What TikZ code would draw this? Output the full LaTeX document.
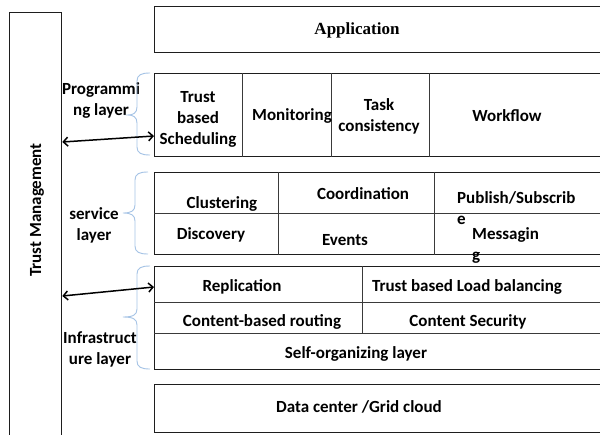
\documentclass[tikz,border=0pt]{standalone}
\usepackage{fontspec}
\setmainfont{Carlito}
\newfontfamily\titlefont{Liberation Serif}
\usetikzlibrary{arrows.meta}

% left curly brace: #1 top, #2 tip level, #3 bottom, #4 spine x, #5 tip x
\newcommand\layerbrace[5]{%
  \draw[bracestyle] ({#4+13},#1) .. controls ({#4+4},#1) and (#4,{#1+2}) .. (#4,{#1+8})
    -- (#4,{#2-8}) .. controls (#4,{#2-2}) and ({#4-4},#2) .. (#5,#2)
    .. controls ({#4-4},#2) and (#4,{#2+2}) .. (#4,{#2+8})
    -- (#4,{#3-8}) .. controls (#4,{#3-2}) and ({#4+4},#3) .. ({#4+13},#3);}

\definecolor{bracecol}{HTML}{A6C4E6}
\definecolor{framecol}{HTML}{1E1E1E}
\definecolor{gridcol}{HTML}{3A3A3A}

\tikzset{
  box/.style={draw=framecol, line width=1.3pt, anchor=north west, inner sep=0pt},
  gridline/.style={draw=gridcol, line width=0.8pt},
  txt/.style={font=\bfseries\fontsize{17}{21}\selectfont, inner sep=0pt, align=center},
  bracestyle/.style={draw=bracecol, line width=0.9pt},
  linkarrow/.style={line width=1.5pt, {Straight Barb[length=4.5pt,width=9pt]}-{Straight Barb[length=4.5pt,width=9pt]}}
}

\begin{document}
\begin{tikzpicture}[x=1pt,y=-1pt]
\useasboundingbox (0,0) rectangle (600,434);
\clip (0,0) rectangle (600,434);
\fill[white] (0,0) rectangle (600,434);

% side column
\node[box, minimum width=52pt, minimum height=440pt] (tm) at (9,12) {};
\node[txt, rotate=90] (tmlabel) at (37,210) {Trust Management};

% layer frames
\node[box, minimum width=458pt, minimum height=46pt]  (app)   at (154,6)   {};
\node[box, minimum width=458pt, minimum height=83pt]  (prog)  at (154,73)  {};
\node[box, minimum width=458pt, minimum height=82pt]  (serv)  at (154,172) {};
\node[box, minimum width=458pt, minimum height=103pt] (infra) at (154,266) {};
\node[box, minimum width=458pt, minimum height=48pt]  (dc)    at (154,384) {};

% cells of the programming layer
\foreach \cx in {242,331,429}
  \draw[gridline] (\cx,0 |- prog.north) -- (\cx,0 |- prog.south);
% cells of the service layer
\draw[gridline] (0,213 -| serv.west) -- (0,213 -| serv.east);
\foreach \cx in {278,434}
  \draw[gridline] (\cx,0 |- serv.north) -- (\cx,0 |- serv.south);
% cells of the infrastructure layer
\draw[gridline] (0,302 -| infra.west) -- (0,302 -| infra.east);
\draw[gridline] (0,333 -| infra.west) -- (0,333 -| infra.east);
\draw[gridline] (362,0 |- infra.north) -- (362,333);

% texts
\node[txt, font=\titlefont\bfseries\fontsize{17}{21}\selectfont] (tapp) at (357,30) {Application};

\node[txt] (tsched) at (198,119) {Trust\\based\\Scheduling};
\node[txt] (tmon)   at (292,116) {Monitoring};
\node[txt] (ttask)  at (379,116) {Task\\consistency};
\node[txt] (twf)    at (507,116) {Workflow};

\node[txt] (tclu)  at (222,204) {Clustering};
\node[txt] (tdis)  at (211,235) {Discovery};
\node[txt] (tcoo)  at (363,194) {Coordination};
\node[txt] (tev)   at (345,240) {Events};
\node[txt, anchor=base west] (tpub)  at (457,203) {Publish/Subscrib};
\node[txt, anchor=base west] (tpub2) at (457,224) {e};
\node[txt, anchor=base west] (tmsg)  at (472,239) {Messagin};
\node[txt, anchor=base west] (tmsg2) at (472,260) {g};

\node[txt] (trep)  at (242,287) {Replication};
\node[txt] (tload) at (467,287) {Trust based Load balancing};
\node[txt] (tcbr)  at (262,322) {Content-based routing};
\node[txt] (tsec)  at (468,322) {Content Security};
\node[txt] (tself) at (356,354) {Self-organizing layer};
\node[txt] (tdc)   at (359,407) {Data center /Grid cloud};

% layer names
\node[txt] (lprog)  at (101,100) {Programmi\\ng layer};
\node[txt] (lserv)  at (94,225)  {service\\layer};
\node[txt] (linfra) at (100,349) {Infrastruct\\ure layer};

% braces
\layerbrace{73}{115}{155}{137}{128}
\layerbrace{172}{213}{254}{135}{123}
\layerbrace{266}{317}{369}{137}{123}

% links between trust management and the layers
\draw[linkarrow] (tm.east |- 0,142) -- (prog.west |- 0,136);
\draw[linkarrow] (tm.east |- 0,296) -- (infra.west |- 0,287);
\end{tikzpicture}
\end{document}
